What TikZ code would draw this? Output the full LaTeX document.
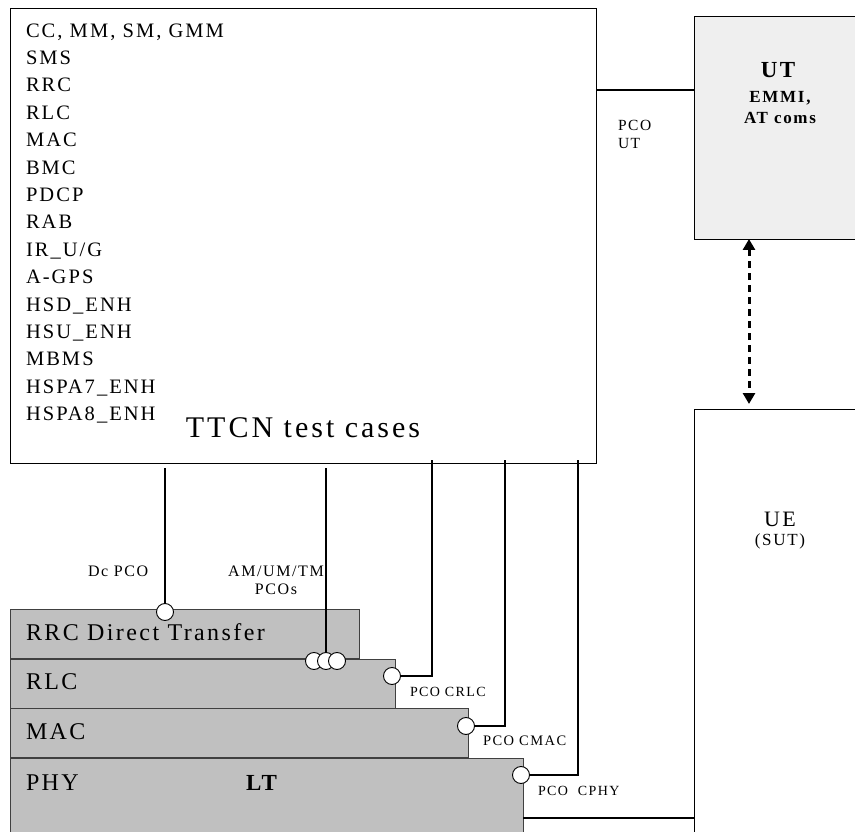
\documentclass[tikz,border=0pt]{standalone}
\usepackage{fontspec}
\setmainfont{Liberation Serif}[LetterSpace=10]
\usetikzlibrary{arrows.meta,positioning}
\definecolor{ltGray}{HTML}{C0C0C0}
\definecolor{utGray}{HTML}{EFEFEF}

\begin{document}
\begin{tikzpicture}[
  x=1pt,y=-1pt,
  every node/.style={inner sep=0pt,outer sep=0pt},
  frame/.style={draw=black,line width=0.9pt,anchor=north west},
  layer/.style={draw=black!75,fill=ltGray,line width=0.9pt,anchor=north west,minimum height=49.5pt},
  port/.style={circle,draw=black,fill=white,line width=0.9pt,minimum size=17pt},
  pco/.style={line width=2.6pt,draw=black},
  tag/.style={font=\fontsize{14.5}{18}\selectfont},
  bigtag/.style={font=\fontsize{16}{18}\selectfont},
  lname/.style={anchor=base west,font=\fontsize{24}{26}\selectfont}
]
  \useasboundingbox (0,0) rectangle (855,832);

  % tester and upper tester
  \node[frame,minimum width=586pt,minimum height=455pt] (ttcn) at (10,8) {};
  \node[anchor=north west,align=left,font=\fontsize{20.5}{27.4}\selectfont] (list) at (26,23.5)
    {CC, MM, SM, GMM\\SMS\\RRC\\RLC\\MAC\\BMC\\PDCP\\RAB\\IR\_U/G\\A-GPS\\HSD\_ENH\\HSU\_ENH\\MBMS\\HSPA7\_ENH\\HSPA8\_ENH};
  \node[anchor=base,font=\fontsize{30}{34}\selectfont] (ttcnlbl) at (303,437) {TTCN test cases};

  \node[frame,fill=utGray,minimum width=180pt,minimum height=223pt] (ut) at (694,16) {};
  \node[anchor=base,font=\bfseries\fontsize{23}{26}\selectfont] (utlbl) at (778,78) {UT};
  \node[anchor=north,align=center,font=\bfseries\fontsize{17}{21}\selectfont] (emmi) at (780,91) {EMMI,\\AT coms};
  \node[tag,anchor=north west,align=left,font=\fontsize{15.5}{18}\selectfont] (pcout) at (618,120) {PCO\\UT};

  \node[frame,minimum width=200pt,minimum height=450pt] (ue) at (694,409) {};
  \node[anchor=base,font=\fontsize{22}{26}\selectfont] (uelbl) at (780,526) {UE};
  \node[anchor=base,font=\fontsize{17}{20}\selectfont] (sut) at (780,545) {(SUT)};

  % lower tester stack
  \node[layer,minimum width=349pt] (rrc) at (10,609) {};
  \node[layer,minimum width=385pt] (rlc) at (10,659) {};
  \node[layer,minimum width=458pt] (mac) at (10,708) {};
  \node[layer,minimum width=513pt,minimum height=120pt] (phy) at (10,758) {};
  \node[lname] (rrclbl) at (26,640) {RRC Direct Transfer};
  \node[lname] (rlclbl) at (26,689) {RLC};
  \node[lname] (maclbl) at (26,739) {MAC};
  \node[lname] (phylbl) at (26,790) {PHY};
  \node[lname,font=\bfseries\fontsize{23}{26}\selectfont] (lt) at (246,790) {LT};

  % PCOs
  \node[port] (dc) at (165,612) {};
  \node[port] (am1) at (314,661) {};
  \node[port] (am2) at (326,661) {};
  \node[port] (am3) at (337,661) {};
  \node[port] (crlc) at (392,676) {};
  \node[port] (cmac) at (466,726) {};
  \node[port] (cphy) at (521,775) {};

  \node[bigtag,anchor=base west] (dclbl) at (88,576) {Dc PCO};
  \node[bigtag,anchor=north,align=center] (amlbl) at (276,566) {AM/UM/TM\\PCOs};
  \node[tag,font=\fontsize{14}{18}\selectfont,anchor=base west] (crlclbl) at (410,696) {PCO CRLC};
  \node[tag,anchor=base west] (cmaclbl) at (483,745) {PCO CMAC};
  \node[tag,font=\fontsize{14}{18}\selectfont,anchor=base west] (cphylbl) at (538,795) {PCO~~CPHY};

  % connectors
  \coordinate (crlcup) at (432,460);
  \coordinate (cmacup) at (505,460);
  \coordinate (cphyup) at (578,460);
  \coordinate (utlink) at (694,90);
  \coordinate (uelink) at (694,818);
  \coordinate (sync) at (749,0);

  \draw[pco,shorten >=5pt] (dc) -- (dc |- ttcn.south);
  \draw[pco,shorten >=5pt] (am2) -- (am2 |- ttcn.south);
  \draw[pco] (crlcup) |- (crlc);
  \draw[pco] (cmacup) |- (cmac);
  \draw[pco] (cphyup) |- (cphy);
  \draw[pco] (uelink) -- (uelink -| phy.east);
  \draw[line width=1.8pt] (utlink) -- (utlink -| ttcn.east);
  \draw[{Triangle[length=11pt,width=12pt]}-{Triangle[length=11pt,width=12pt]},
    line width=3pt,dash pattern=on 7pt off 5pt,shorten >=5pt]
    (ut.south -| sync) -- (ue.north -| sync);
\end{tikzpicture}
\end{document}
